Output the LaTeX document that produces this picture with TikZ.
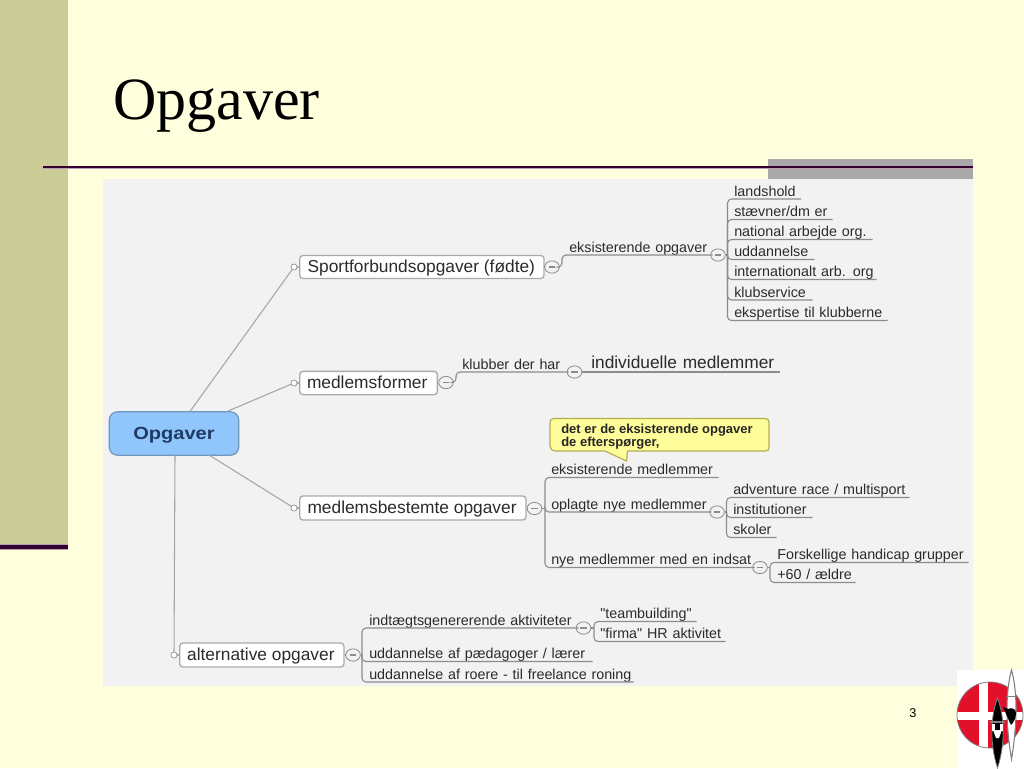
\documentclass[tikz,border=0pt]{standalone}
\usepackage{fontspec}
\setmainfont{Liberation Sans}
\newfontfamily\serifttl{Liberation Serif}
\newfontfamily\plainf{Liberation Sans}
\usetikzlibrary{shapes.geometric}
\definecolor{slidebg}{HTML}{FFFFDD}
\definecolor{bandc}{HTML}{CCCC99}
\definecolor{rulec}{HTML}{33002F}
\definecolor{halo}{HTML}{B9A0B4}
\definecolor{greyband}{HTML}{A9A9A9}
\definecolor{panel}{HTML}{F2F2F2}
\definecolor{linec}{HTML}{8C8C8C}
\definecolor{branchc}{HTML}{A6A6A6}
\definecolor{boxc}{HTML}{ABABAB}
\definecolor{txt}{HTML}{2B2B2B}
\definecolor{rootf}{HTML}{91C6FC}
\definecolor{rootd}{HTML}{6E97BF}
\definecolor{roott}{HTML}{1F3B66}
\definecolor{notef}{HTML}{FFFD99}
\definecolor{noted}{HTML}{B3AE55}
\definecolor{logor}{HTML}{E3102A}
\tikzset{
  ln/.style={draw=linec,line width=.8pt,rounded corners=3pt},
  branch/.style={draw=branchc,line width=.8pt},
  bigbox/.style={draw=boxc,line width=1pt,fill=white,rounded corners=2.5pt,inner sep=0pt,
     text=txt,font=\fontsize{13}{15}\selectfont,text height=9.5pt,text depth=2pt},
  lab/.style={inner sep=0pt,anchor=south west,text=txt,text height=8pt,text depth=2pt,
     font=\fontsize{10.75}{12}\selectfont,align=left},
  labbig/.style={lab,font=\fontsize{13}{15}\selectfont,text height=9.5pt,text depth=2.6pt},
  tog/.style={ellipse,draw=linec,line width=.6pt,fill=panel,minimum width=11pt,minimum height=9.2pt,inner sep=0pt,
     path picture={\draw[linec,line width=.9pt] ([xshift=-2.4pt]path picture bounding box.center) -- ([xshift=2.4pt]path picture bounding box.center);}},
  dot/.style={circle,draw=linec,line width=.5pt,fill=white,minimum size=4.6pt,inner sep=0pt},
}
\newcommand\lab[6][lab]{\pgfmathsetmacro\labw{(#5-#3)*0.75}%
  \node[#1,text width=\labw pt] (#2) at (#3,#4) {\mbox{#6}};}
\begin{document}
\begin{tikzpicture}[x=0.75pt,y=-0.75pt]
\useasboundingbox (0,0) rectangle (1024,768);
% slide
\fill[slidebg] (0,0) rectangle (1024,768);
\fill[bandc] (0,0) rectangle (68,545);
\fill[halo] (0,544) rectangle (68,550);
\fill[rulec] (0,544.5) rectangle (68,548.5);
\fill[greyband] (768,159) rectangle (973,179);
\fill[halo] (43,165.5) rectangle (973,169);
\fill[rulec] (43,166) rectangle (973,168);
\node[inner sep=0pt,anchor=base west,font=\serifttl\fontsize{45}{50}\selectfont] (title) at (113,119) {Opgaver};
\fill[panel] (103,179) rectangle (973,686);
\node[inner sep=0pt,anchor=base,font=\fontsize{9.5}{11}\selectfont] (pageno) at (913,717) {3};
% logo
\fill[white] (957,670) rectangle (1024,768);
\fill[logor] (990,715) circle (33);
\fill[white] (979,682) rectangle (988,748);
\fill[white] (957,711.5) rectangle (1023,720);
\draw[gray,line width=.6pt] (990,715) circle (33);
\draw[fill=white,draw=gray,line width=.8pt] (1011.5,670) .. controls (1006,690) and (1005,720) .. (1011.5,759) .. controls (1018,720) and (1017,690) .. (1011.5,670) -- cycle;
\draw[gray,line width=.6pt] (1006,696) -- (1017,696);
\fill[black] (1003,707) -- (1008,709) .. controls (1012,707) and (1016,709) .. (1016,713) .. controls (1016,719) and (1013,723) .. (1011,725) .. controls (1009,721) and (1007,716) .. (1003,707) -- cycle;
\draw[fill=black,draw=gray,line width=.6pt] (997.5,698) .. controls (990,718) and (990,745) .. (997.5,768) .. controls (1005,745) and (1005,718) .. (997.5,698) -- cycle;
\fill[white] (993,730) -- (1002,730) -- (999,738) -- (996,738) -- cycle;
\draw[gray,line width=1pt] (990,722) -- (1005,722);
\fill[white] (992,724) rectangle (995,731);
\fill[white] (1000,724) rectangle (1003,731);
% root
\node[draw=rootd,line width=.9pt,fill=rootf,rounded corners=6pt,minimum width=97pt,minimum height=32.5pt,inner sep=0pt,
  text=roott,font=\bfseries\fontsize{13.2}{15}\selectfont,text height=9.8pt,text depth=1.4pt] (root) at (174,433.5) {\scalebox{1.14}[1]{Opgaver}};
\coordinate (r1) at (190,411.5);
\coordinate (r2) at (227,411.5);
\coordinate (r3) at (209,455);
\coordinate (r4) at (175,455);
% main boxes
\node[bigbox,anchor=west,minimum width=183.3pt,minimum height=17.3pt] (sport) at (299,267) {Sportforbundsopgaver (fødte)\kern.8pt};
\node[bigbox,anchor=west,minimum width=103.3pt,minimum height=17.5pt] (medl) at (299,383) {medlemsformer\kern2pt};
\node[bigbox,anchor=west,minimum width=169.8pt,minimum height=18pt] (best) at (299,508) {medlemsbestemte opgaver\kern1.2pt};
\node[bigbox,anchor=west,minimum width=123.3pt,minimum height=18pt] (alt) at (179,655) {alternative opgaver\kern1.5pt};
% left dots
\node[dot] (ds) at (294,267) {};
\node[dot] (dm) at (294,383) {};
\node[dot] (db) at (294,508) {};
\node[dot] (da) at (174,655) {};
\draw[branch] (r1) -- (ds);
\draw[branch] (r2) -- (dm);
\draw[branch] (r3) -- (db);
\draw[branch] (r4) -- (da);
\draw[branch] (ds) -- (sport);
\draw[branch] (dm) -- (medl);
\draw[branch] (db) -- (best);
\draw[branch] (da) -- (alt);
% toggles
\node[tog] (t1) at (552,267) {};
\node[tog] (t2) at (718,255) {};
\node[tog] (t3) at (446,382.5) {};
\node[tog] (t4) at (574.5,372) {};
\node[tog] (t5) at (534.5,508.5) {};
\node[tog] (t6) at (717,512) {};
\node[tog] (t7) at (760,567.5) {};
\node[tog] (t8) at (353,655) {};
\node[tog] (t9) at (583.5,628) {};
\draw[ln] (sport) -- (t1);
\draw[ln] (medl) -- (t3);
\draw[ln] (best) -- (t5);
\draw[ln] (alt) -- (t8);
% first branch
\lab{eo}{569}{255}{712}{eksisterende opgaver}
\coordinate (b1) at (562,267);
\draw[ln] (t1) -- (b1) |- (eo.south east);
\coordinate (b2) at (727.5,255);
\lab{a1}{734}{199}{800.5}{landshold}
\lab{a2}{734}{219.5}{832}{stævner/dm er}
\lab{a3}{734}{239.5}{872}{national arbejde org.}
\lab{a4}{734}{259.5}{814}{uddannelse}
\lab{a5}{734}{279.5}{876}{internationalt arb. org}
\lab{a6}{734}{300}{812}{klubservice}
\lab{a7}{734}{320.5}{887}{ekspertise til klubberne}
\draw[ln] (t2) -- (b2);
\foreach \n in {a1,a2,a3,a4,a5,a6,a7} \draw[ln] (b2) |- (\n.south east);
% second branch
\lab{kl}{462}{372}{568}{klubber der har}
\coordinate (b3) at (456,382.5);
\draw[ln] (t3) -- (b3) |- (kl.south east);
\lab[labbig]{im}{591}{372}{779}{individuelle medlemmer}
\draw[ln] (t4) -- (im.south east);
% third branch
\coordinate (b4) at (545,508.5);
\lab{em}{551}{477.5}{718}{eksisterende medlemmer}
\lab{on}{551}{512}{711}{oplagte nye medlemmer}
\lab{nm}{551}{567.5}{754}{nye medlemmer med en indsat}
\draw[ln] (t5) -- (b4);
\foreach \n in {em,on,nm} \draw[ln] (b4) |- (\n.south east);
\coordinate (b5) at (726.5,512);
\lab{c1}{733}{497.5}{909}{adventure race / multisport}
\lab{c2}{733}{517.5}{812}{institutioner}
\lab{c3}{733}{537.5}{776}{skoler}
\draw[ln] (t6) -- (b5);
\foreach \n in {c1,c2,c3} \draw[ln] (b5) |- (\n.south east);
\coordinate (b6) at (770,567.5);
\lab{d1}{777}{562.5}{968}{Forskellige handicap grupper}
\lab{d2}{777}{582.5}{855}{+60 / ældre}
\draw[ln] (t7) -- (b6);
\foreach \n in {d1,d2} \draw[ln] (b6) |- (\n.south east);
% fourth branch
\coordinate (b7) at (362,655);
\lab{e1}{369}{628}{578}{indtægtsgenererende aktiviteter}
\lab{e2}{369}{661.5}{592}{uddannelse af pædagoger / lærer}
\lab{e3}{369}{682}{633}{uddannelse af roere - til freelance roning}
\draw[ln] (t8) -- (b7);
\foreach \n in {e1,e2,e3} \draw[ln] (b7) |- (\n.south east);
\coordinate (b8) at (594,628);
\lab{f1}{600}{621.5}{696}{\plainf "teambuilding"}
\lab{f2}{600}{641.5}{725}{\plainf "firma" HR aktivitet}
\draw[ln] (t9) -- (b8);
\foreach \n in {f1,f2} \draw[ln] (b8) |- (\n.south east);
% callout
\fill[notef,draw=noted,line width=.9pt,line join=round]
  (554,418.5) -- (765,418.5) .. controls (768,418.5) and (769,420) .. (769,423) -- (769,447) .. controls (769,450) and (768,451) .. (765,451)
  -- (627.5,451) -- (626.5,461) -- (605,451) -- (556,451) .. controls (552,451) and (550,449) .. (550,446) -- (550,423) .. controls (550,420) and (551,418.5) .. (554,418.5) -- cycle;
\node[inner sep=0pt,anchor=north west,align=left,text=black!85,font=\bfseries\fontsize{9.75}{10}\selectfont] (note) at (561,423.5) {det er de eksisterende opgaver\\de efterspørger,};
\end{tikzpicture}
\end{document}
